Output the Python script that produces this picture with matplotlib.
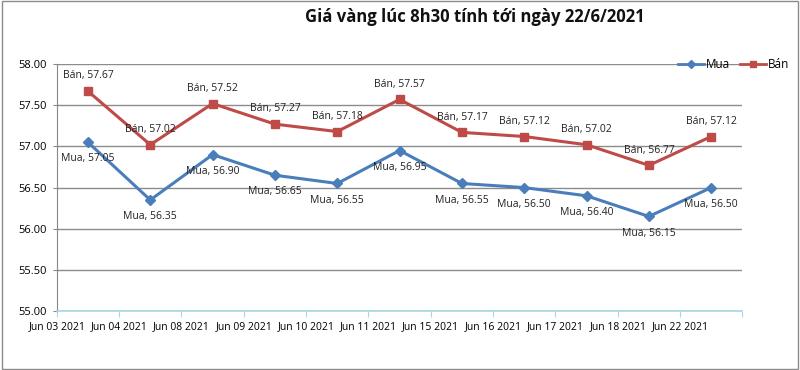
import numpy as np
import matplotlib.pyplot as plt
from matplotlib.lines import Line2D
from matplotlib.patches import Rectangle

plt.rcParams['font.family'] = ['Open Sans', 'DejaVu Sans']

# Dates shown on the axis
dates = ['Jun 03 2021', 'Jun 04 2021', 'Jun 08 2021', 'Jun 09 2021', 'Jun 10 2021',
         'Jun 11 2021', 'Jun 15 2021', 'Jun 16 2021', 'Jun 17 2021', 'Jun 18 2021',
         'Jun 22 2021']
# Buy / sell prices (million VND per tael)
mua = [57.05, 56.35, 56.90, 56.65, 56.55, 56.95, 56.55, 56.50, 56.40, 56.15, 56.50]
ban = [57.67, 57.02, 57.52, 57.27, 57.18, 57.57, 57.17, 57.12, 57.02, 56.77, 57.12]

blue = '#4a7ebb'
red = '#be4b48'

fig = plt.figure(figsize=(8, 3.7), dpi=100)
ax = fig.add_axes([0.071, 0.159, 0.857, 0.668])

x = np.arange(len(dates)) + 0.5
ax.plot(x, mua, color=blue, lw=2.2, marker='D', ms=5, mec=blue, mfc=blue, zorder=3)
ax.plot(x, ban, color=red, lw=2.2, marker='s', ms=6, mec=red, mfc=red, zorder=3)

# Data labels like Excel: "Series, value"
for xi, v in zip(x, ban):
    ax.annotate('Bán, %.2f' % v, (xi, v), xytext=(0, 7), textcoords='offset points',
                ha='center', va='bottom', fontsize=7.5, color='#222222')
for xi, v in zip(x, mua):
    ax.annotate('Mua, %.2f' % v, (xi, v), xytext=(0, -8), textcoords='offset points',
                ha='center', va='top', fontsize=7.5, color='#222222')

ax.set_xlim(0, len(dates))
ax.set_ylim(55, 58)
ax.set_yticks(np.arange(55, 58.01, 0.5))
ax.set_yticklabels(['%.2f' % t for t in np.arange(55, 58.01, 0.5)], fontsize=8)
ax.set_xticks(np.arange(len(dates) + 1))
ax.set_xticklabels(dates + [''], fontsize=7.5)
ax.tick_params(axis='x', length=4, color='#a8d8e4', pad=3)
ax.tick_params(axis='y', length=3, color='#888888', pad=4)

ax.yaxis.grid(True, color='#8c8c8c', lw=1)
ax.set_axisbelow(True)
for s in ['top', 'right']:
    ax.spines[s].set_visible(False)
ax.spines['left'].set_color('#888888')
ax.spines['bottom'].set_color('#a8d8e4')
ax.spines['bottom'].set_linewidth(1.2)

fig.text(0.594, 0.955, 'Giá vàng lúc 8h30 tính tới ngày 22/6/2021', ha='center', va='center',
         fontsize=12, fontweight='bold', color='#111111')

handles = [Line2D([], [], color=blue, lw=2, marker='D', ms=4),
           Line2D([], [], color=red, lw=2, marker='s', ms=5)]
fig.legend(handles, ['Mua', 'Bán'], loc='center right', bbox_to_anchor=(1.0, 0.825),
           ncol=2, frameon=False, fontsize=8.5, handlelength=2.2, handletextpad=0.2,
           columnspacing=0.8)

fig.patches.append(Rectangle((0.002, 0.004), 0.996, 0.993, transform=fig.transFigure,
                             fill=False, edgecolor='#8a8a8a', lw=1))

fig.savefig('out.png', dpi=100)
